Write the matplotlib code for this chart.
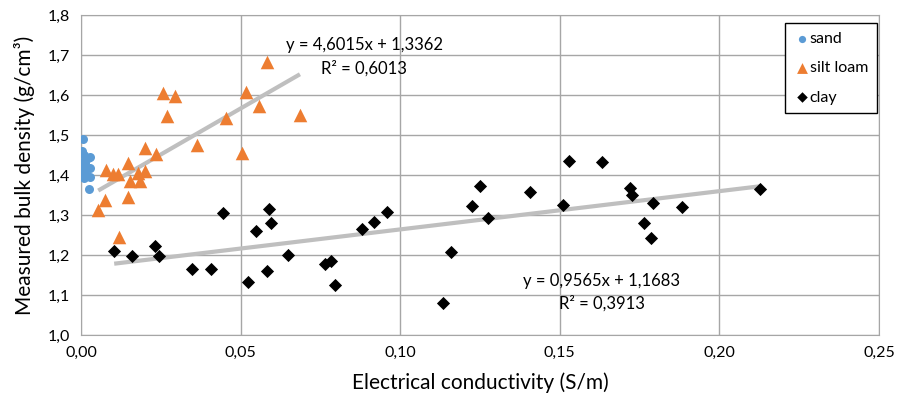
import matplotlib.pyplot as plt
import numpy as np

plt.rcParams["font.family"] = ["Lato", "DejaVu Sans"]

# sand (no trend line)
sand_x = [0.0007, 0.0003, 0.0008, 0.0023, 0.0028, 0.0005, 0.0012, 0.0003, 0.0028,
          0.0013, 0.0028, 0.0004, 0.0010, 0.0026]
sand_y = [1.490, 1.460, 1.450, 1.442, 1.445, 1.433, 1.430, 1.417, 1.417,
          1.405, 1.396, 1.400, 1.392, 1.364]

# silt loam
silt_x = [0.0256, 0.0294, 0.0270, 0.0516, 0.0584, 0.0559, 0.0686, 0.0453, 0.0364,
          0.0505, 0.0200, 0.0235, 0.0148, 0.0078, 0.0101, 0.0117, 0.0154, 0.0185,
          0.0200, 0.0180, 0.0146, 0.0075, 0.0054, 0.0120]
silt_y = [1.606, 1.597, 1.548, 1.608, 1.683, 1.573, 1.550, 1.543, 1.475,
          1.454, 1.467, 1.453, 1.429, 1.413, 1.403, 1.403, 1.386, 1.386,
          1.411, 1.404, 1.344, 1.338, 1.313, 1.244]

# clay
clay_x = [0.0104, 0.0159, 0.0232, 0.0245, 0.0347, 0.0406, 0.0446, 0.0524, 0.0547,
          0.0582, 0.0590, 0.0594, 0.0649, 0.0764, 0.0782, 0.0797, 0.0879, 0.0918,
          0.0958, 0.1135, 0.1159, 0.1224, 0.1250, 0.1274, 0.1408, 0.1511, 0.1529,
          0.1631, 0.1720, 0.1725, 0.1793, 0.1764, 0.1785, 0.1884, 0.2127]
clay_y = [1.211, 1.198, 1.223, 1.198, 1.164, 1.164, 1.306, 1.133, 1.261,
          1.159, 1.314, 1.281, 1.200, 1.178, 1.186, 1.125, 1.264, 1.283,
          1.307, 1.081, 1.207, 1.323, 1.373, 1.293, 1.358, 1.325, 1.436,
          1.432, 1.368, 1.350, 1.329, 1.279, 1.243, 1.319, 1.365]

# trend line coefficients as printed (slope, intercept, R²)
silt_fit = (4.6015, 1.3362, 0.6013)
clay_fit = (0.9565, 1.1683, 0.3913)

xticks = [0.0, 0.05, 0.10, 0.15, 0.20, 0.25]
yticks = [1.0, 1.1, 1.2, 1.3, 1.4, 1.5, 1.6, 1.7, 1.8]

GRID = "#a6a6a6"
TREND = "#bfbfbf"


def comma(v, nd):
    return f"{v:.{nd}f}".replace(".", ",")


def fit_label(ax, fit, x, y_eq, y_r2):
    ax.text(x, y_eq, f"y = {comma(fit[0], 4)}x + {comma(fit[1], 4)}",
            ha="center", va="center", fontsize=12)
    ax.text(x, y_r2, f"R² = {comma(fit[2], 4)}", ha="center", va="center", fontsize=12)


fig = plt.figure(figsize=(9.07, 4.04), dpi=100)
ax = fig.add_axes([0.0893, 0.1708, 0.8798, 0.7921])

for fit, xs in ((silt_fit, silt_x), (clay_fit, clay_x)):
    lx = np.array([min(xs), max(xs)])
    ax.plot(lx, fit[0] * lx + fit[1], color=TREND, lw=3, zorder=2, solid_capstyle="butt")

ax.scatter(sand_x, sand_y, s=42, marker="o", color="#5b9bd5", label="sand", zorder=3, linewidths=0)
ax.scatter(silt_x, silt_y, s=95, marker="^", color="#ed7d31", label="silt loam", zorder=3, linewidths=0)
ax.scatter(clay_x, clay_y, s=45, marker="D", color="black", label="clay", zorder=3, linewidths=0)

fit_label(ax, silt_fit, 0.0887, 1.725, 1.6675)
fit_label(ax, clay_fit, 0.1632, 1.135, 1.080)

ax.set_xlim(0, 0.25)
ax.set_ylim(1.0, 1.8)
ax.set_xticks(xticks)
ax.set_xticklabels([comma(v, 2) for v in xticks])
ax.set_yticks(yticks)
ax.set_yticklabels([comma(v, 1) for v in yticks])
ax.tick_params(length=0, labelsize=11.5, pad=8)
ax.grid(color=GRID, lw=1)
ax.set_axisbelow(True)
for sp in ax.spines.values():
    sp.set_color(GRID)

ax.set_xlabel("Electrical conductivity (S/m)", fontsize=15, labelpad=9)
ax.set_ylabel("Measured bulk density (g/cm³)", fontsize=15, labelpad=9)

leg = ax.legend(loc="upper left", bbox_to_anchor=(0.882, 0.975), frameon=True, fancybox=False,
                edgecolor="black", framealpha=1, fontsize=11.5, labelspacing=0.95,
                handletextpad=0.0, handlelength=1.0, borderpad=0.55, borderaxespad=0,
                markerscale=0.8)
leg.get_frame().set_linewidth(1)

fig.savefig("out.png", dpi=100)
